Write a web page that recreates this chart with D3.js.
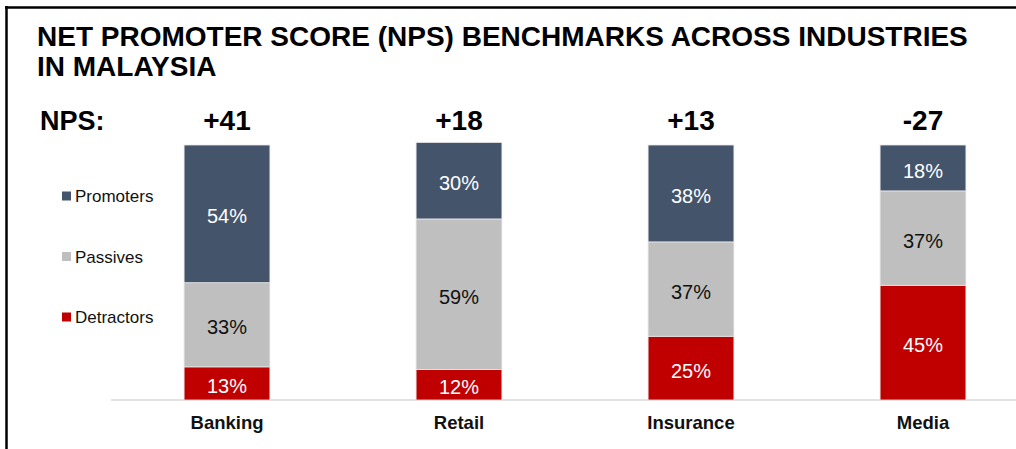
<!DOCTYPE html>
<html>
<head>
<meta charset="utf-8">
<script src="https://cdn.jsdelivr.net/npm/d3@7/dist/d3.min.js"></script>
<style>
  body { margin: 0; background: #fff; }
  text { font-family: Arial, "Liberation Sans", sans-serif; }
</style>
</head>
<body>
<div id="chart"></div>
<script>
// data
var industries = ["Banking", "Retail", "Insurance", "Media"];
var npsScores = ["+41", "+18", "+13", "-27"];
var detractors = [13, 12, 25, 45];
var passives = [33, 59, 37, 37];
var promoters = [54, 30, 38, 18];
var seriesNames = ["Promoters", "Passives", "Detractors"];
var seriesColors = ["#44546a", "#bfbfbf", "#c00000"];
var labelColors = ["#ffffff", "#111111", "#ffffff"];

var width = 1016, height = 449;

var svg = d3.select("#chart").append("svg")
    .attr("width", width)
    .attr("height", height);

// frame lines (top and left)
svg.append("line").attr("x1", 5).attr("x2", width).attr("y1", 7.5).attr("y2", 7.5)
    .style("stroke", "#000").style("stroke-width", 2.5);
svg.append("line").attr("x1", 6.5).attr("x2", 6.5).attr("y1", 6).attr("y2", height)
    .style("stroke", "#000").style("stroke-width", 2.5);

// title
var title = svg.append("text")
    .style("font-size", "28px")
    .style("font-weight", "bold")
    .style("fill", "#000");
title.append("tspan").attr("x", 37).attr("y", 46).text("NET PROMOTER SCORE (NPS) BENCHMARKS ACROSS INDUSTRIES");
title.append("tspan").attr("x", 37).attr("y", 76).text("IN MALAYSIA");

var x = d3.scaleBand()
    .domain(industries)
    .range([111, 1039])
    .paddingInner(0.63)
    .paddingOuter(0.315);

var y = d3.scaleLinear()
    .domain([0, 100])
    .range([400, 145]);

// stack the three series
var rows = industries.map(function(d, i){
    return { industry: d, Detractors: detractors[i], Passives: passives[i], Promoters: promoters[i] };
});
var stack = d3.stack().keys(["Detractors", "Passives", "Promoters"]);
var stacked = stack(rows);

var color = d3.scaleOrdinal().domain(seriesNames).range(seriesColors);
var labelColor = d3.scaleOrdinal().domain(seriesNames).range(labelColors);

// baseline
svg.append("line")
    .attr("x1", 111).attr("x2", width)
    .attr("y1", y(0)).attr("y2", y(0))
    .style("stroke", "#d9d9d9")
    .style("stroke-width", 1.5);

var groups = svg.selectAll(".series")
    .data(stacked)
    .enter().append("g")
    .attr("class", "series")
    .style("fill", function(d){ return color(d.key); });

groups.selectAll("rect")
    .data(function(d){ return d; })
    .enter().append("rect")
    .attr("x", function(d){ return x(d.data.industry); })
    .attr("y", function(d){ return y(d[1]); })
    .attr("width", x.bandwidth())
    .attr("height", function(d){ return y(d[0]) - y(d[1]); })
    .style("stroke", "#e8e8e8")
    .style("stroke-width", 0.8);

groups.each(function(s){
    d3.select(this).selectAll(".val")
        .data(s)
        .enter().append("text")
        .attr("class", "val")
        .attr("x", function(d){ return x(d.data.industry) + x.bandwidth() / 2; })
        .attr("y", function(d){ return (y(d[0]) + y(d[1])) / 2; })
        .attr("dy", "0.48em")
        .attr("text-anchor", "middle")
        .style("font-size", "20px")
        .style("fill", labelColor(s.key))
        .text(function(d){ return (d[1] - d[0]) + "%"; });
});

// category axis labels
var xAxis = d3.axisBottom(x).tickSize(0).tickPadding(0);
var gx = svg.append("g")
    .attr("transform", "translate(0," + y(0) + ")")
    .call(xAxis);
gx.select(".domain").remove();
gx.selectAll("text")
    .attr("y", 29)
    .attr("dy", null)
    .style("font-family", "Arial, 'Liberation Sans', sans-serif")
    .style("font-size", "18.5px")
    .style("font-weight", "bold")
    .style("fill", "#111");

// NPS row
svg.append("text")
    .attr("x", 40)
    .attr("y", 130)
    .style("font-size", "27px")
    .style("font-weight", "bold")
    .text("NPS:");

svg.selectAll(".nps")
    .data(npsScores)
    .enter().append("text")
    .attr("class", "nps")
    .attr("x", function(d, i){ return x(industries[i]) + x.bandwidth() / 2; })
    .attr("y", 130)
    .attr("text-anchor", "middle")
    .style("font-size", "28px")
    .style("font-weight", "bold")
    .text(function(d){ return d; });

// legend
var legendY = d3.scalePoint().domain(seriesNames).range([196, 317]);
var legend = svg.selectAll(".legend")
    .data(seriesNames)
    .enter().append("g")
    .attr("class", "legend")
    .attr("transform", function(d){ return "translate(62," + legendY(d) + ")"; });

legend.append("rect")
    .attr("x", 0).attr("y", -4.5)
    .attr("width", 9).attr("height", 9)
    .style("fill", function(d){ return color(d); });

legend.append("text")
    .attr("x", 13)
    .attr("dy", "0.36em")
    .style("font-size", "17px")
    .style("fill", "#111")
    .text(function(d){ return d; });
</script>
</body>
</html>
